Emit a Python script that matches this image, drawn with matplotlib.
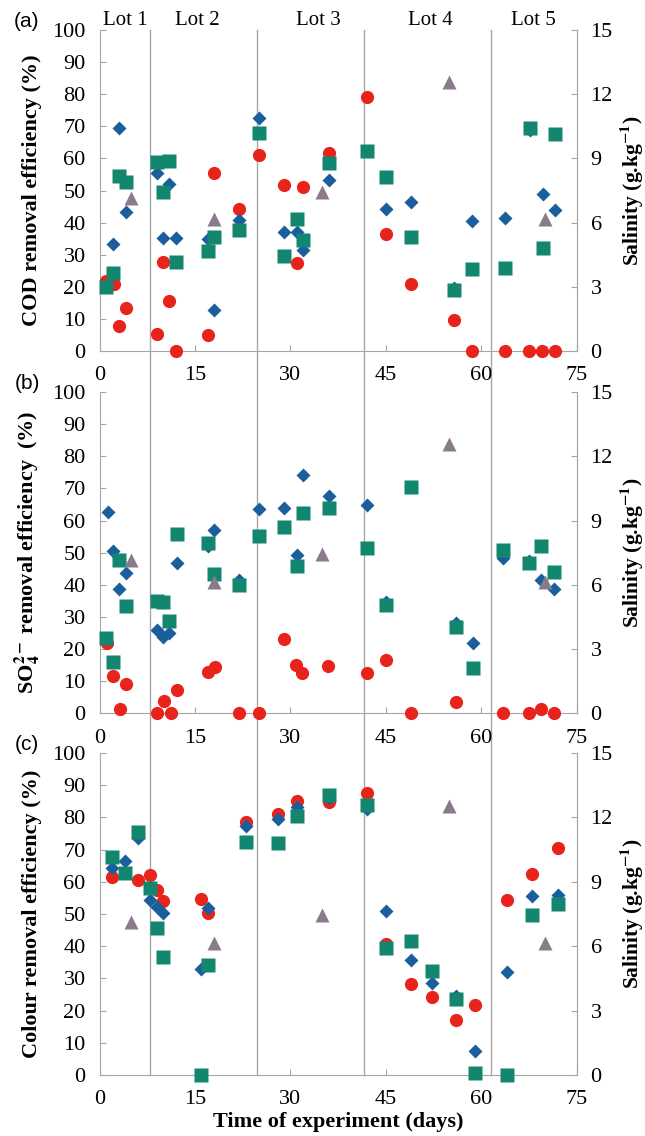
import numpy as np
import matplotlib
matplotlib.use('Agg')
import matplotlib.pyplot as plt
import matplotlib.transforms as mtransforms

plt.rcParams['font.family'] = ['Liberation Serif', 'DejaVu Serif']
plt.rcParams['mathtext.fontset'] = 'stix'

# ---- data ----
# panel (a) COD removal efficiency (%)
a_red_x = [1, 2.3, 3.1, 4.2, 9, 10, 11, 12.1, 17, 18, 22, 25, 29, 31, 32, 36, 42, 45, 49, 55.7, 58.6, 63.7, 67.5, 69.6, 71.6]
a_red_y = [21.8, 21, 7.7, 13.3, 5.4, 27.6, 15.7, 0, 4.9, 55.6, 44.2, 61, 51.7, 27.5, 51.2, 61.8, 79.2, 36.4, 21, 9.8, 0, 0, 0, 0, 0]
a_blue_x = [2.2, 3, 4.2, 9, 10, 11, 12.1, 17, 18, 22, 25, 29, 31, 32, 36, 45, 49, 55.7, 58.6, 63.7, 67.6, 69.7, 71.6]
a_blue_y = [33.2, 69.6, 43.4, 55.3, 35.3, 51.9, 35.1, 34.9, 12.9, 40.8, 72.7, 37.2, 37, 31.5, 53.3, 44.2, 46.3, 19.5, 40.5, 41.3, 69, 48.9, 43.9]
a_teal_x = [1, 2.2, 3, 4.2, 9, 10, 11, 12.1, 17, 18, 22, 25, 29, 31, 32, 36, 42, 45, 49, 55.7, 58.6, 63.7, 67.6, 69.7, 71.6]
a_teal_y = [20, 24.3, 54.6, 52.8, 58.8, 49.6, 59.2, 27.6, 31, 35.6, 37.7, 67.8, 29.6, 41.1, 34.6, 58.5, 62.4, 54.3, 35.4, 19, 25.4, 25.8, 69.6, 32, 67.5]

# panel (b) SO4 removal efficiency (%)
b_red_x = [1.2, 2.2, 3.2, 4.2, 9.1, 10.1, 11.2, 12.2, 17.1, 18.2, 22, 25, 29, 30.9, 31.9, 35.9, 42, 45, 49, 56, 63.4, 67.5, 69.4, 71.4]
b_red_y = [22, 11.7, 1.2, 9.1, 0.2, 3.9, 0.2, 7.3, 12.7, 14.3, 0, 0, 23, 15, 12.6, 14.7, 12.4, 16.6, 0, 3.6, 0, 0, 1.3, 0]
b_blue_x = [1.3, 2.2, 3.1, 4.2, 9, 10, 11, 12.2, 17, 18, 22, 25, 29, 31, 32, 36, 42, 45, 49, 56, 58.7, 63.4, 67.5, 69.4, 71.4]
b_blue_y = [62.7, 50.5, 38.7, 43.7, 26, 23.9, 24.9, 46.8, 52, 57.2, 41.6, 63.7, 64, 49.4, 74.2, 67.7, 64.8, 34.5, 70.5, 28, 21.8, 48.4, 47.3, 41.6, 38.8]
b_teal_x = [1, 2.2, 3.1, 4.2, 9, 10, 11, 12.2, 17, 18, 22, 25, 29, 31, 32, 36, 42, 45, 49, 56, 58.7, 63.4, 67.5, 69.4, 71.4]
b_teal_y = [23.3, 16, 47.7, 33.5, 35.1, 34.6, 28.6, 55.9, 53.1, 43.2, 40, 55.2, 58.1, 46, 62.3, 64, 51.3, 33.8, 70.3, 27, 14.2, 50.8, 46.8, 52.2, 44]

# panel (c) colour removal efficiency (%)
c_red_x = [2, 6, 8, 9, 10, 16, 17, 23, 28, 31, 36, 42, 45, 49, 52.2, 56, 59, 64, 68, 72]
c_red_y = [61.6, 60.5, 62.1, 57.4, 54, 54.6, 50.4, 78.7, 81, 85.2, 84.9, 87.5, 40.8, 28.4, 24.2, 17, 21.6, 54.5, 62.5, 70.6]
c_blue_x = [2, 4, 6, 8, 9, 10, 16, 17, 23, 28, 31, 36, 42, 45, 49, 52.2, 56, 59, 64, 68, 72]
c_blue_y = [64.4, 66.5, 73.7, 54.3, 52.2, 50.4, 33, 51.9, 77.4, 79.5, 83.2, 86, 82.5, 50.8, 35.6, 28.6, 24.5, 7.5, 32.1, 55.7, 55.8]
c_teal_x = [2, 4, 6, 8, 9, 10, 16, 17, 23, 28, 31, 36, 42, 45, 49, 52.2, 56, 59, 64, 68, 72]
c_teal_y = [67.8, 62.8, 75.4, 58.2, 45.5, 36.7, 0, 34.3, 72.3, 72, 80.5, 87, 83.9, 39.4, 41.5, 32.3, 23.6, 0.7, 0, 49.7, 53.1]

# salinity (g/kg), same in every panel
sal_x = [5, 18, 35, 55, 70]
sal_y = [7.15, 6.15, 7.45, 12.55, 6.15]

# lot boundaries and labels
lot_bounds = [8, 24.7, 41.5, 61.6]
lot_names = ['Lot 1', 'Lot 2', 'Lot 3', 'Lot 4', 'Lot 5']
lot_centers = [4, 15.3, 34.4, 52, 68.2]

panels = [
    ('(a)', 'COD removal efficiency (%)', a_red_x, a_red_y, a_blue_x, a_blue_y, a_teal_x, a_teal_y),
    ('(b)', r'SO$_\mathbf{4}^\mathbf{2-}$ removal efficiency  (%)', b_red_x, b_red_y, b_blue_x, b_blue_y, b_teal_x, b_teal_y),
    ('(c)', 'Colour removal efficiency (%)', c_red_x, c_red_y, c_blue_x, c_blue_y, c_teal_x, c_teal_y),
]

red = '#e8231c'
blue = '#1a5f9c'
teal = '#138670'
purple = '#8a7b8b'
gray = '#a6a6a6'

fig = plt.figure(figsize=(6.45, 11.36), dpi=100)
W, H = 645.0, 1136.0
left, right = 99.5, 576.7
tops = [30, 392, 753]
bottoms = [351, 713.3, 1075]

for i, (tag, ylab, rx, ry, bx, by, tx, ty) in enumerate(panels):
    ax = fig.add_axes([left / W, 1 - bottoms[i] / H, (right - left) / W, (bottoms[i] - tops[i]) / H])
    ax.plot(rx, ry, 'o', color=red, ms=9.5, mec='none', clip_on=False, zorder=3)
    ax.plot(bx, by, 'D', color=blue, ms=7, mec='none', clip_on=False, zorder=4)
    ax.plot(tx, ty, 's', color=teal, ms=9.8, mec='none', clip_on=False, zorder=5)

    # lot separators run through the gaps between panels
    gap = (tops[i + 1] - bottoms[i]) / (bottoms[i] - tops[i]) if i < 2 else 0
    for xb in lot_bounds:
        ax.axvline(xb, ymin=-gap, ymax=1, color=gray, lw=1, clip_on=False, zorder=1)

    ax.set_xlim(0, 75)
    ax.set_ylim(0, 100)
    ax.set_xticks(np.arange(0, 76, 15))
    ax.set_yticks(np.arange(0, 101, 10))
    ax.tick_params(direction='in', length=4, color=gray, labelsize=16, pad=10)
    ax.tick_params(axis='x', pad=11)
    for s in ['left', 'bottom', 'right']:
        ax.spines[s].set_color(gray)
    ax.spines['top'].set_visible(False)
    ax.set_ylabel(ylab, fontsize=16, fontweight='bold')
    ax.yaxis.set_label_coords(-0.121, 0.5)
    ax.text(-0.152, 1.025, tag, transform=ax.transAxes, fontsize=15,
            family=['Liberation Sans', 'DejaVu Sans'], ha='center', va='center')

    ax2 = ax.twinx()
    ax2.plot(sal_x, sal_y, '^', color=purple, ms=10, mec='none', clip_on=False, zorder=6)
    ax2.set_ylim(0, 15)
    ax2.set_yticks(np.arange(0, 16, 3))
    ax2.tick_params(direction='in', length=4, color=gray, labelsize=16, pad=10)
    ax2.spines['right'].set_color(gray)
    ax2.spines['top'].set_visible(False)
    ax2.spines['left'].set_visible(False)
    ax2.spines['bottom'].set_visible(False)
    ax2.set_ylabel(r'Salinity (g.kg$^{\mathbf{-1}}$)', fontsize=15.5, fontweight='bold')
    ax2.yaxis.set_label_coords(1.086, 0.5)

    if i == 0:
        trans = mtransforms.blended_transform_factory(ax.transData, ax.transAxes)
        for name, xc in zip(lot_names, lot_centers):
            ax.text(xc, 1.031, name, transform=trans, fontsize=15, ha='center', va='center')
    if i == 2:
        ax.set_xlabel('Time of experiment (days)', fontsize=16, fontweight='bold', labelpad=2)

fig.savefig('out.png', dpi=100)
